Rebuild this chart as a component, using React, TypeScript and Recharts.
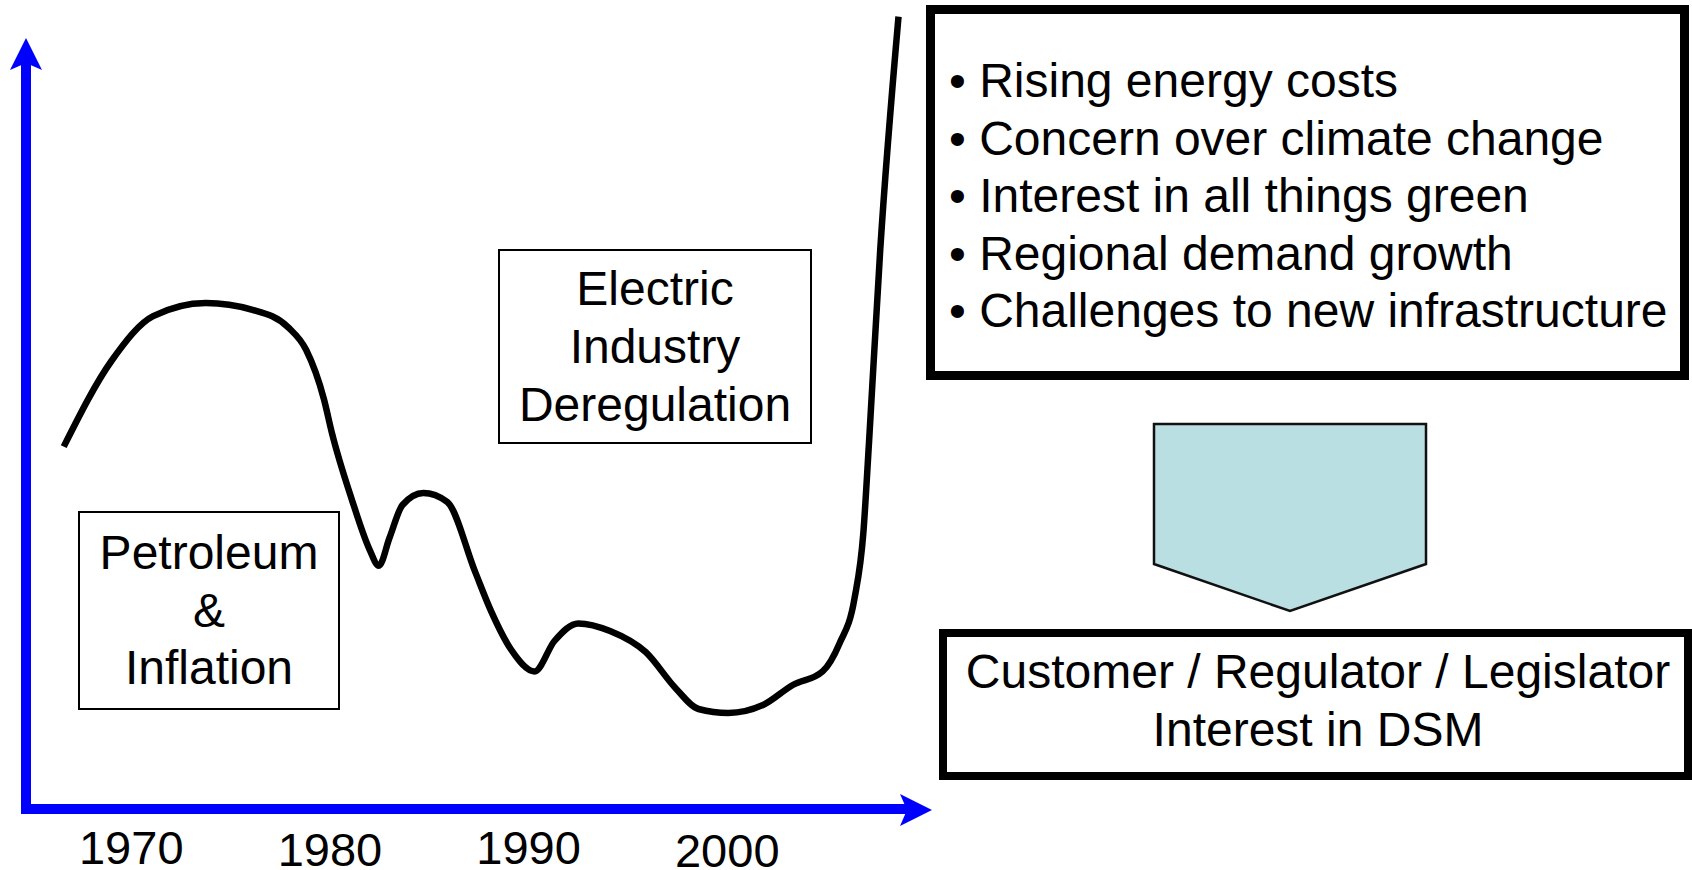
import React from 'react';
import { LineChart, Line, XAxis, YAxis } from 'recharts';

// index of interest over time (arbitrary units, 0 = x axis)
const years = [
  1966.6, 1969.0, 1971.1, 1973.75, 1976.1, 1977.9, 1978.8, 1979.7, 1980.1, 1981.1,
  1982.0, 1982.46, 1983.0, 1983.65, 1984.7, 1985.9, 1987.3, 1988.1, 1989.1, 1990.3,
  1991.3, 1992.5, 1994.1, 1995.9, 1997.4, 1998.55, 2000.05, 2001.8, 2003.3, 2004.8,
  2005.65, 2006.4, 2006.85, 2007.13, 2007.7, 2008.62,
];
const interest = [
  45.3, 56.0, 61.6, 63.25, 62.4, 60.2, 57.4, 51.2, 47.0, 38.7,
  32.4, 30.4, 33.9, 38.0, 39.5, 38.4, 29.7, 24.8, 20.0, 17.2,
  21.0, 23.2, 22.25, 19.6, 15.1, 12.5, 12.0, 13.0, 15.5, 17.2,
  20.7, 26.25, 34.5, 45.6, 69.9, 99.05,
];
const tickYears = [1970, 1980, 1990, 2000];
const tickDrop = [55, 57, 55, 58];

const leftBox = ['Petroleum', '&', 'Inflation'];
const middleBox = ['Electric', 'Industry', 'Deregulation'];
const drivers = [
  'Rising energy costs',
  'Concern over climate change',
  'Interest in all things green',
  'Regional demand growth',
  'Challenges to new infrastructure',
];
const outcome = ['Customer / Regulator / Legislator', 'Interest in DSM'];

const data = years.map((year, i) => ({ year, value: interest[i] }));

const FONT = '"Liberation Sans", Arial, sans-serif';
const BLUE = '#0000FF';

const YearTick = (props: any) => {
  const { x, y, payload } = props;
  const i = tickYears.indexOf(payload.value);
  return (
    <text x={x} y={y + (tickDrop[i] ?? 56)} textAnchor="middle" fontSize={47} fontFamily={FONT} fill="#000">
      {payload.value}
    </text>
  );
};

export default function App() {
  return (
    <div style={{ position: 'absolute', left: 0, top: 0, width: 1692, height: 870, background: '#fff' }}>
      <LineChart
        width={1692}
        height={870}
        data={data}
        margin={{ top: 9, left: 24, right: 778, bottom: 4 }}
      >
        <XAxis
          type="number"
          dataKey="year"
          domain={[1964.6, 2009.4]}
          ticks={tickYears}
          height={57}
          tickSize={0}
          tickMargin={0}
          tickLine={false}
          axisLine={{ stroke: BLUE, strokeWidth: 10 }}
          tick={<YearTick />}
        />
        <YAxis hide width={0} type="number" domain={[0, 100]} />
        <Line
          type="monotone"
          dataKey="value"
          stroke="#000"
          strokeWidth={6.5}
          dot={false}
          isAnimationActive={false}
        />
      </LineChart>

      <svg
        width={1692}
        height={870}
        style={{ position: 'absolute', left: 0, top: 0, pointerEvents: 'none' }}
        fontFamily={FONT}
      >
        {/* blue axes arrows */}
        <line x1={26} y1={814} x2={26} y2={60} stroke={BLUE} strokeWidth={10} />
        <polygon points="26,38 42,70 26,63 10,70" fill={BLUE} />
        <polygon points="932,810 900,794 907,810 900,826" fill={BLUE} />

        {/* annotation boxes */}
        <rect x={79} y={512} width={260} height={197} fill="#fff" stroke="#000" strokeWidth={2} />
        {leftBox.map((t, i) => (
          <text key={t} x={209} y={569 + i * 57.5} textAnchor="middle" fontSize={48}>{t}</text>
        ))}

        <rect x={499} y={250} width={312} height={193} fill="#fff" stroke="#000" strokeWidth={2} />
        {middleBox.map((t, i) => (
          <text key={t} x={655} y={305 + i * 58} textAnchor="middle" fontSize={48}>{t}</text>
        ))}

        <rect x={930.5} y={9.5} width={754} height={366} fill="#fff" stroke="#000" strokeWidth={9} />
        {drivers.map((t, i) => (
          <text key={t} x={949} y={97 + i * 57.6} fontSize={48}>{'\u2022 ' + t}</text>
        ))}

        <polygon
          points="1154,424 1426,424 1426,564 1290,611 1154,564"
          fill="#B9DFE3"
          stroke="#111"
          strokeWidth={2.5}
        />

        <rect x={943} y={633} width={745} height={143} fill="#fff" stroke="#000" strokeWidth={8} />
        {outcome.map((t, i) => (
          <text key={t} x={1318} y={688 + i * 58} textAnchor="middle" fontSize={48}>{t}</text>
        ))}
      </svg>
    </div>
  );
}
